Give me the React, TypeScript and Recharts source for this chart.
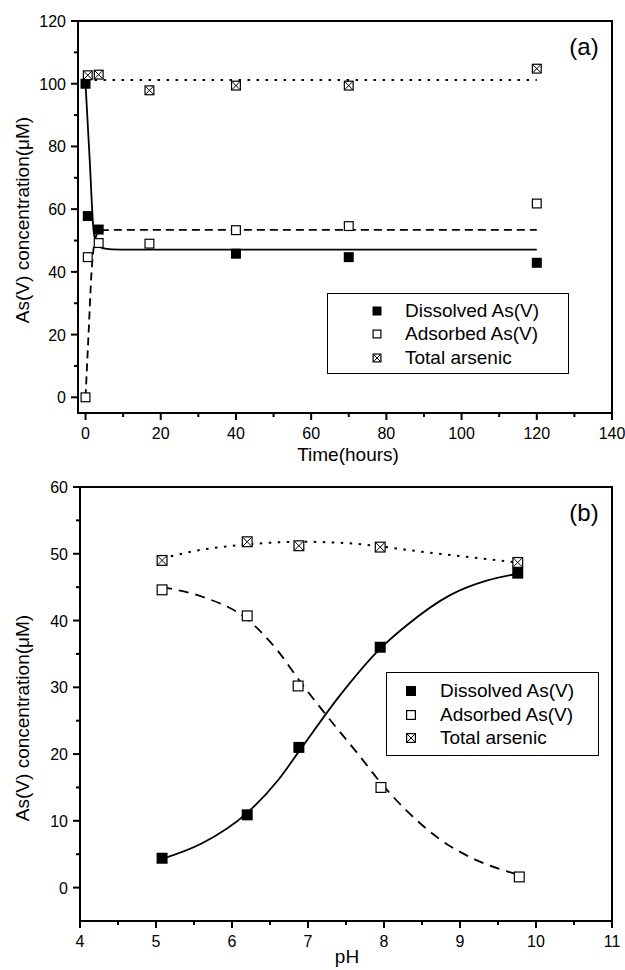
import React from "react";
import { ComposedChart, Line, Scatter, XAxis, YAxis, Legend } from "recharts";

type Pt = { x: number; y: number };

const FONT = '"Liberation Sans", Arial, sans-serif';

// ---------- (a) arsenic vs time ----------
const timeMajor = [0, 20, 40, 60, 80, 100, 120, 140];
const timeMinor = [10, 30, 50, 70, 90, 110, 130];
const concAMajor = [0, 20, 40, 60, 80, 100, 120];
const concAMinor = [10, 30, 50, 70, 90, 110];

const dissolvedA: Pt[] = [
  { x: 0, y: 100 }, { x: 0.6, y: 57.8 }, { x: 3.5, y: 53.5 },
  { x: 40, y: 45.8 }, { x: 70, y: 44.7 }, { x: 120, y: 42.9 },
];
const adsorbedA: Pt[] = [
  { x: 0, y: 0 }, { x: 0.6, y: 44.7 }, { x: 3.5, y: 49.2 }, { x: 17, y: 49 },
  { x: 40, y: 53.3 }, { x: 70, y: 54.6 }, { x: 120, y: 61.8 },
];
const totalA: Pt[] = [
  { x: 0.6, y: 102.7 }, { x: 3.5, y: 102.9 }, { x: 17, y: 97.9 },
  { x: 40, y: 99.4 }, { x: 70, y: 99.4 }, { x: 120, y: 104.8 },
];

// fitted curves
const fitDissolvedA: Pt[] = [
  { x: 0, y: 100 }, { x: 1.1, y: 76 }, { x: 2.2, y: 52.5 }, { x: 3, y: 49.2 },
  { x: 4.5, y: 47.6 }, { x: 7, y: 47.2 }, { x: 12, y: 47.1 }, { x: 120, y: 47.1 },
];
const fitAdsorbedA: Pt[] = [
  { x: 0, y: 0 }, { x: 0.8, y: 20 }, { x: 1.6, y: 40 }, { x: 2.4, y: 49.5 },
  { x: 3.3, y: 52.4 }, { x: 5, y: 53.3 }, { x: 10, y: 53.4 }, { x: 120, y: 53.4 },
];
const fitTotalA: Pt[] = [{ x: 0, y: 101.2 }, { x: 120, y: 101.2 }];

// ---------- (b) arsenic vs pH ----------
const phMajor = [4, 5, 6, 7, 8, 9, 10, 11];
const phMinor = [4.5, 5.5, 6.5, 7.5, 8.5, 9.5, 10.5];
const concBMajor = [0, 10, 20, 30, 40, 50, 60];
const concBMinor = [5, 15, 25, 35, 45, 55];

const dissolvedB: Pt[] = [
  { x: 5.08, y: 4.4 }, { x: 6.2, y: 10.9 }, { x: 6.88, y: 21 },
  { x: 7.95, y: 36 }, { x: 9.76, y: 47.1 },
];
const adsorbedB: Pt[] = [
  { x: 5.08, y: 44.6 }, { x: 6.2, y: 40.7 }, { x: 6.87, y: 30.2 },
  { x: 7.96, y: 15 }, { x: 9.78, y: 1.6 },
];
const totalB: Pt[] = [
  { x: 5.08, y: 49 }, { x: 6.2, y: 51.8 }, { x: 6.88, y: 51.2 },
  { x: 7.95, y: 51 }, { x: 9.76, y: 48.7 },
];

const fitDissolvedB: Pt[] = [
  { x: 5.08, y: 4.3 }, { x: 5.6, y: 6.6 }, { x: 6.2, y: 11.2 }, { x: 6.6, y: 16 },
  { x: 6.9, y: 20.7 }, { x: 7.4, y: 28.5 }, { x: 7.95, y: 35.8 }, { x: 8.3, y: 39.3 },
  { x: 8.87, y: 43.8 }, { x: 9.36, y: 46 }, { x: 9.75, y: 47 },
];
const fitAdsorbedB: Pt[] = [
  { x: 5.08, y: 45 }, { x: 5.6, y: 43.6 }, { x: 6.2, y: 40.2 }, { x: 6.6, y: 35.5 },
  { x: 6.9, y: 30.8 }, { x: 7.3, y: 25 }, { x: 7.68, y: 19.7 }, { x: 7.95, y: 15.8 },
  { x: 8.3, y: 11.5 }, { x: 8.74, y: 7.2 }, { x: 9.2, y: 4.2 }, { x: 9.75, y: 2 },
];
const fitTotalB: Pt[] = [
  { x: 5.08, y: 49.3 }, { x: 5.6, y: 50.6 }, { x: 6.2, y: 51.4 }, { x: 6.9, y: 51.8 },
  { x: 7.5, y: 51.6 }, { x: 7.95, y: 51.1 }, { x: 8.5, y: 50.3 }, { x: 9.2, y: 49.4 },
  { x: 9.75, y: 48.7 },
];

const seriesNames = ["Dissolved As(V)", "Adsorbed As(V)", "Total arsenic"];
const kinds = ["dissolved", "adsorbed", "total"];

const AXIS = { stroke: "#000", strokeWidth: 2 };

function Marker({ kind, cx, cy, s }: { kind: string; cx: number; cy: number; s: number }) {
  const h = s / 2;
  if (kind === "dissolved") {
    return <rect x={cx - h} y={cy - h} width={s} height={s} fill="#000" />;
  }
  const box = (
    <rect x={cx - h + 0.6} y={cy - h + 0.6} width={s - 1.2} height={s - 1.2}
      fill="#fff" stroke="#000" strokeWidth={1.2} />
  );
  if (kind === "adsorbed") return box;
  return (
    <g>
      {box}
      <line x1={cx - h + 1} y1={cy - h + 1} x2={cx + h - 1} y2={cy + h - 1} stroke="#000" strokeWidth={1} />
      <line x1={cx - h + 1} y1={cy + h - 1} x2={cx + h - 1} y2={cy - h + 1} stroke="#000" strokeWidth={1} />
    </g>
  );
}

const xTick = (majors: number[]) => (props: any) => {
  const { x, y, payload } = props;
  const major = majors.includes(payload.value);
  return (
    <g>
      <path d={`M${x},${y}V${y + (major ? 7 : 4)}`} stroke="#000" strokeWidth={2} fill="none" />
      {major && (
        <text x={x} y={y + 26} textAnchor="middle" fontSize={16} fontFamily={FONT} fill="#000">
          {payload.value}
        </text>
      )}
    </g>
  );
};

const yTick = (majors: number[]) => (props: any) => {
  const { x, y, payload } = props;
  const major = majors.includes(payload.value);
  return (
    <g>
      <path d={`M${x - (major ? 7 : 4)},${y}H${x}`} stroke="#000" strokeWidth={2} fill="none" />
      {major && (
        <text x={x - 12} y={y + 6} textAnchor="end" fontSize={16} fontFamily={FONT} fill="#000">
          {payload.value}
        </text>
      )}
    </g>
  );
};

function LegendBox({ markerX, textX, rows, size }: any) {
  return (
    <div style={{ position: "relative", width: "100%", height: "100%", boxSizing: "border-box",
      border: "1.5px solid #000", background: "#fff", fontFamily: FONT, fontSize: 19 }}>
      {seriesNames.map((name, i) => (
        <div key={name}>
          <svg width={16} height={16} style={{ position: "absolute", left: markerX - 8, top: rows[i] - 8 }}>
            <Marker kind={kinds[i]} cx={8} cy={8} s={size} />
          </svg>
          <span style={{ position: "absolute", left: textX, top: rows[i] - 11, lineHeight: "22px", whiteSpace: "nowrap" }}>
            {name}
          </span>
        </div>
      ))}
    </div>
  );
}

function Panel(p: any) {
  const { top, height, plot, xDomain, yDomain, xMajor, xMinor, yMajor, yMinor, series, legend, tag, xTitle, titles, markerSize } = p;
  return (
    <div style={{ position: "absolute", left: 0, top, width: 625, height }}>
      <ComposedChart width={625} height={height}
        margin={{ top: plot.top, right: 625 - plot.right, left: 0, bottom: 0 }}>
        <XAxis dataKey="x" type="number" domain={xDomain} allowDataOverflow
          ticks={[...xMajor, ...xMinor].sort((a, b) => a - b)} interval={0}
          height={height - plot.bottom} tickSize={0} tickMargin={0} tickLine={false}
          axisLine={AXIS} tick={xTick(xMajor)} />
        <YAxis dataKey="y" type="number" domain={yDomain} allowDataOverflow
          ticks={[...yMajor, ...yMinor].sort((a, b) => a - b)} interval={0}
          width={plot.left} tickSize={0} tickMargin={0} tickLine={false}
          axisLine={AXIS} tick={yTick(yMajor)} />
        {series.map((s: any) => (
          <Line key={"fit-" + s.kind} data={s.fit} dataKey="y" type="monotone" stroke="#000"
            strokeWidth={s.width} strokeDasharray={s.dash} dot={false} activeDot={false}
            legendType="none" isAnimationActive={false} />
        ))}
        {series.map((s: any) => (
          <Scatter key={"pts-" + s.kind} data={s.points} dataKey="y" isAnimationActive={false}
            shape={(q: any) => <Marker kind={s.kind} cx={q.cx} cy={q.cy} s={markerSize} />} />
        ))}
        <Legend layout="vertical" align="center" verticalAlign="middle"
          wrapperStyle={{ left: legend.left, top: legend.top, width: legend.width, height: legend.height }}
          content={() => <LegendBox {...legend} size={markerSize - 1} />} />
      </ComposedChart>
      {/* plot frame */}
      <div style={{ position: "absolute", left: plot.left - 1, top: plot.top - 1,
        width: plot.right - plot.left + 2, height: plot.bottom - plot.top + 2,
        border: "2px solid #000", boxSizing: "border-box", pointerEvents: "none", zIndex: 2 }} />
      <div style={{ position: "absolute", left: titles.x[0], top: titles.x[1], transform: "translate(-50%,-50%)",
        fontFamily: FONT, fontSize: 19, whiteSpace: "nowrap" }}>{xTitle}</div>
      <div style={{ position: "absolute", left: titles.y[0], top: titles.y[1],
        transform: "translate(-50%,-50%) rotate(-90deg)", fontFamily: FONT, fontSize: 19, whiteSpace: "nowrap" }}>
        As(V) concentration(μM)
      </div>
      <div style={{ position: "absolute", left: titles.tag[0], top: titles.tag[1], transform: "translate(-50%,-50%)",
        fontFamily: FONT, fontSize: 24, whiteSpace: "nowrap" }}>{tag}</div>
    </div>
  );
}

export default function App() {
  const seriesA = [
    { kind: "dissolved", points: dissolvedA, fit: fitDissolvedA, dash: undefined, width: 1.8 },
    { kind: "adsorbed", points: adsorbedA, fit: fitAdsorbedA, dash: "8 5", width: 1.8 },
    { kind: "total", points: totalA, fit: fitTotalA, dash: "2.5 6.5", width: 2 },
  ];
  const seriesB = [
    { kind: "dissolved", points: dissolvedB, fit: fitDissolvedB, dash: undefined, width: 1.8 },
    { kind: "adsorbed", points: adsorbedB, fit: fitAdsorbedB, dash: "10 7", width: 1.8 },
    { kind: "total", points: totalB, fit: fitTotalB, dash: "2.5 6.5", width: 2 },
  ];
  return (
    <div style={{ position: "absolute", left: 0, top: 0, width: 625, height: 970, background: "#fff", overflow: "hidden" }}>
      <Panel top={0} height={480} plot={{ left: 78, right: 612, top: 21, bottom: 413 }}
        xDomain={[-2, 140]} yDomain={[-5, 120]} xMajor={timeMajor} xMinor={timeMinor}
        yMajor={concAMajor} yMinor={concAMinor} series={seriesA} markerSize={10}
        legend={{ left: 327, top: 293, width: 242, height: 81, markerX: 49, textX: 77, rows: [17, 40, 64] }}
        tag="(a)" xTitle="Time(hours)"
        titles={{ x: [348, 455], y: [23, 220], tag: [584, 47] }} />
      <Panel top={480} height={490} plot={{ left: 80, right: 612, top: 7, bottom: 441 }}
        xDomain={[4, 11]} yDomain={[-5, 60]} xMajor={phMajor} xMinor={phMinor}
        yMajor={concBMajor} yMinor={concBMinor} series={seriesB} markerSize={11}
        legend={{ left: 386, top: 192, width: 213, height: 84, markerX: 24, textX: 53, rows: [18, 42, 65] }}
        tag="(b)" xTitle="pH"
        titles={{ x: [347, 477], y: [23, 238], tag: [584, 33] }} />
    </div>
  );
}
